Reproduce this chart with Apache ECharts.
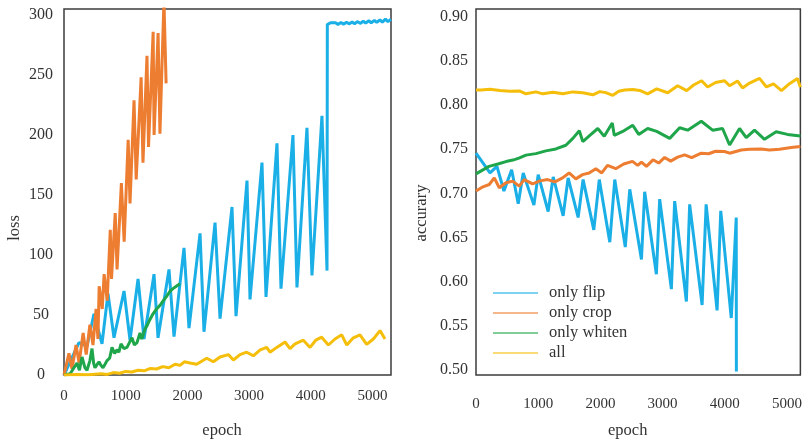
<!DOCTYPE html>
<html>
<head>
<meta charset="utf-8">
<script src="https://cdn.jsdelivr.net/npm/echarts@6/dist/echarts.min.js"></script>
<style>
html,body{margin:0;padding:0;background:#fff;}
#chart{width:805px;height:444px;}
</style>
</head>
<body>
<div id="chart"></div>
<script>
// ---------- data ----------
const seriesNames = ['only flip', 'only crop', 'only whiten', 'all'];
const epochTicks = [0, 1000, 2000, 3000, 4000, 5000];
const lossTicks = [0, 50, 100, 150, 200, 250, 300];
const accTicks = [0.50, 0.55, 0.60, 0.65, 0.70, 0.75, 0.80, 0.85, 0.90];

// loss (left panel): [epoch, loss]
const lossFlip = [[0,0],[243,27],[373,24],[486,51],[616,26],[713,68],[810,31],[973,70],[1070,29],[1200,80],[1297,30],[1459,84],[1524,31],[1702,88],[1783,32],[1945,106],[2026,39],[2205,118],[2269,36],[2448,127],[2529,47],[2723,140],[2788,49],[2966,162],[3015,63],[3209,177],[3274,65],[3452,193],[3517,72],[3711,200],[3776,73],[3938,206],[4019,83],[4181,216],[4263,87],[4268,292],[4320,293.5],[4350,292],[4400,293.5],[4440,292.2],[4490,293.7],[4530,292.4],[4580,294],[4620,292.6],[4670,294.2],[4710,292.8],[4760,294.5],[4800,293],[4850,294.8],[4890,293.2],[4940,295.2],[4980,293.5],[5030,295.5],[5070,293.8],[5120,296],[5160,294],[5210,296.5],[5250,294.5],[5300,296.5]];
const lossCrop = [[0,0],[80,18],[130,5],[195,25],[245,10],[310,35],[360,17],[420,42],[470,25],[520,55],[550,30],[570,74],[620,55],[650,84],[700,62],[750,121],[770,80],[830,135],[860,88],[930,160],[975,111],[1040,196],[1070,143],[1135,229],[1170,163],[1250,248],[1280,177],[1345,266],[1370,190],[1445,286],[1460,200],[1525,285],[1555,201],[1620,312],[1655,243]];
const lossWhiten = [[0,0],[100,1],[211,10],[250,4],[292,15],[340,6],[373,4],[420,12],[454,22],[480,10],[502,6],[540,9],[567,11],[600,8],[632,6],[665,9],[697,12],[740,14],[778,23],[820,18],[859,21],[890,19],[924,26],[970,22],[1021,23],[1060,27],[1102,31],[1140,25],[1183,27],[1232,35],[1260,30],[1281,33],[1310,38],[1345,41],[1380,45],[1443,51],[1500,55],[1556,58],[1610,62],[1670,66],[1720,70],[1767,72],[1820,74],[1880,76]];
const lossAll = [[0,0],[200,0.5],[400,0.3],[600,1],[700,0.5],[800,2],[900,1.5],[1000,3],[1100,2.5],[1200,4],[1300,3.5],[1400,5.5],[1500,5],[1600,7],[1700,6],[1800,9],[1880,8],[1950,11],[2042,10],[2150,9],[2313,14],[2420,11],[2529,15],[2664,17],[2745,12.5],[2853,17],[2961,19],[3069,16],[3180,21],[3285,23],[3339,19],[3448,23],[3583,27.5],[3663,22],[3745,26],[3879,29],[3988,23],[4080,29],[4177,31.5],[4285,25],[4393,30],[4501,33.5],[4583,25],[4690,31],[4798,33.5],[4906,25.5],[5014,30],[5122,37],[5203,30]];

// accuracy (right panel): [epoch, accuracy]
const accFlip = [[0,0.7455],[225,0.7231],[337,0.7306],[449,0.7026],[573,0.7268],[679,0.6883],[759,0.7231],[931,0.6866],[1000,0.7212],[1160,0.6794],[1241,0.7186],[1401,0.6745],[1481,0.7175],[1642,0.6726],[1722,0.7156],[1894,0.6586],[1982,0.7156],[2151,0.6446],[2231,0.7156],[2400,0.639],[2472,0.7046],[2660,0.625],[2712,0.7018],[2900,0.6082],[2953,0.6934],[3141,0.5914],[3194,0.6911],[3382,0.5773],[3435,0.6875],[3635,0.5734],[3700,0.6875],[3876,0.5673],[3935,0.6801],[4104,0.5586],[4184,0.6726],[4186,0.498]];
const accCrop = [[0,0.7026],[112,0.7074],[213,0.71],[294,0.7175],[374,0.7063],[482,0.7119],[589,0.7138],[695,0.7082],[775,0.7156],[910,0.7108],[1027,0.7141],[1151,0.7156],[1268,0.713],[1392,0.7175],[1497,0.7231],[1605,0.7164],[1713,0.7212],[1819,0.7231],[1926,0.7279],[2022,0.7231],[2114,0.7317],[2247,0.7279],[2375,0.7332],[2515,0.7362],[2600,0.7317],[2660,0.7354],[2740,0.7306],[2846,0.738],[2937,0.7343],[3033,0.7407],[3130,0.7365],[3242,0.741],[3354,0.7436],[3467,0.7404],[3622,0.7455],[3740,0.7449],[3852,0.7477],[3996,0.7474],[4077,0.7455],[4264,0.7492],[4398,0.75],[4585,0.7503],[4719,0.7492],[4879,0.75],[5067,0.7519],[5215,0.753]];
const accWhiten = [[0,0.722],[209,0.7306],[353,0.7332],[482,0.736],[594,0.7377],[690,0.7399],[803,0.7433],[963,0.745],[1124,0.7481],[1284,0.7503],[1445,0.7545],[1557,0.7623],[1661,0.7709],[1717,0.7586],[1830,0.7657],[1958,0.7735],[2062,0.7646],[2191,0.7797],[2223,0.7657],[2359,0.7702],[2520,0.7772],[2616,0.7668],[2760,0.7735],[2905,0.7702],[3114,0.7623],[3274,0.7743],[3403,0.7716],[3622,0.7817],[3804,0.7716],[3964,0.7735],[4077,0.7548],[4237,0.7735],[4345,0.7631],[4478,0.7716],[4638,0.7612],[4826,0.7698],[5008,0.7668],[5215,0.7649]];
const accAll = [[0,0.8172],[80,0.8172],[225,0.818],[385,0.8165],[546,0.8158],[706,0.816],[802,0.8128],[963,0.815],[1075,0.8128],[1236,0.8147],[1396,0.8128],[1557,0.815],[1717,0.814],[1878,0.8117],[1990,0.8153],[2087,0.8142],[2199,0.8111],[2295,0.8158],[2391,0.8172],[2520,0.8178],[2632,0.8167],[2760,0.8128],[2905,0.8184],[3082,0.814],[3242,0.822],[3387,0.8165],[3499,0.8228],[3627,0.8277],[3724,0.8206],[3852,0.8256],[3996,0.8277],[4077,0.822],[4205,0.8273],[4285,0.8195],[4398,0.825],[4558,0.8303],[4670,0.8206],[4783,0.824],[4911,0.8165],[5040,0.8243],[5168,0.8303],[5215,0.8203]];

// ---------- styles ----------
const colors = ['#1AAFE6', '#ED7D31', '#1FA64A', '#F5BE0B'];
const FONT = '"Liberation Serif", "Times New Roman", serif';
const TXT = '#333333';

const lossData = [lossFlip, lossCrop, lossWhiten, lossAll];
const accData = [accFlip, accCrop, accWhiten, accAll];

function mkSeries(dataArr, idx) {
  return dataArr.map((d, i) => ({
    name: seriesNames[i],
    type: 'line',
    xAxisIndex: idx,
    yAxisIndex: idx,
    data: d,
    symbol: 'none',
    clip: true,
    lineStyle: { color: colors[i], width: 3 },
    itemStyle: { color: colors[i] },
    animation: false,
    z: i === 0 ? 2 : 3
  }));
}

const gridCommon = { show: true, borderColor: '#3c3c3c', borderWidth: 1.5, backgroundColor: 'rgba(0,0,0,0)' };

const option = {
  animation: false,
  backgroundColor: '#fff',
  grid: [
    Object.assign({ left: 64, top: 9, width: 327, height: 370 }, gridCommon),
    Object.assign({ left: 476, top: 9, width: 325, height: 370 }, gridCommon)
  ],
  legend: {
    data: seriesNames.map((n, i) => ({ name: n, itemStyle: { color: colors[i], opacity: 0.75 } })),
    orient: 'vertical',
    left: 493,
    top: 283,
    padding: 0,
    icon: 'rect',
    itemWidth: 45,
    itemHeight: 1.6,
    itemGap: 0,
    textStyle: { fontFamily: FONT, fontSize: 16.5, color: TXT, lineHeight: 20, padding: [0, 0, 0, 6] }
  },
  xAxis: [
    {
      gridIndex: 0, type: 'value', min: 0, max: 5300,
      axisLine: { show: false }, axisTick: { show: false }, splitLine: { show: false },
      axisLabel: { customValues: epochTicks, margin: 14, fontFamily: FONT, fontSize: 15, color: TXT,
        formatter: v => String(v) },
      name: 'epoch', nameLocation: 'middle', nameGap: 47,
      nameTextStyle: { fontFamily: FONT, fontSize: 16.5, color: TXT, padding: [0, 11, 0, 0] }
    },
    {
      gridIndex: 1, type: 'value', min: 0, max: 5215,
      axisLine: { show: false }, axisTick: { show: false }, splitLine: { show: false },
      axisLabel: { customValues: epochTicks, margin: 22, fontFamily: FONT, fontSize: 15, color: TXT,
        formatter: v => String(v) },
      name: 'epoch', nameLocation: 'middle', nameGap: 47,
      nameTextStyle: { fontFamily: FONT, fontSize: 16.5, color: TXT, padding: [0, 21, 0, 0] }
    }
  ],
  yAxis: [
    {
      gridIndex: 0, type: 'value', min: 0, max: 305,
      axisLine: { show: false }, axisTick: { show: false }, splitLine: { show: false },
      axisLabel: { customValues: lossTicks, margin: 23, align: 'center', fontFamily: FONT, fontSize: 16, color: TXT,
        formatter: v => String(v) },
      name: 'loss', nameLocation: 'middle', nameGap: 41,
      nameTextStyle: { fontFamily: FONT, fontSize: 16.5, color: TXT, padding: [0, 72, 0, 0] }
    },
    {
      gridIndex: 1, type: 'value', min: 0.494, max: 0.909,
      axisLine: { show: false }, axisTick: { show: false }, splitLine: { show: false },
      axisLabel: { customValues: accTicks, margin: 8, fontFamily: FONT, fontSize: 16, color: TXT,
        formatter: v => v.toFixed(2) },
      name: 'accurary', nameLocation: 'middle', nameGap: 46,
      nameTextStyle: { fontFamily: FONT, fontSize: 16.5, color: TXT, padding: [0, 42, 0, 0] }
    }
  ],
  series: mkSeries(lossData, 0).concat(mkSeries(accData, 1))
};

const chart = echarts.init(document.getElementById('chart'), null, { renderer: 'canvas' });
chart.setOption(option);
</script>
</body>
</html>
